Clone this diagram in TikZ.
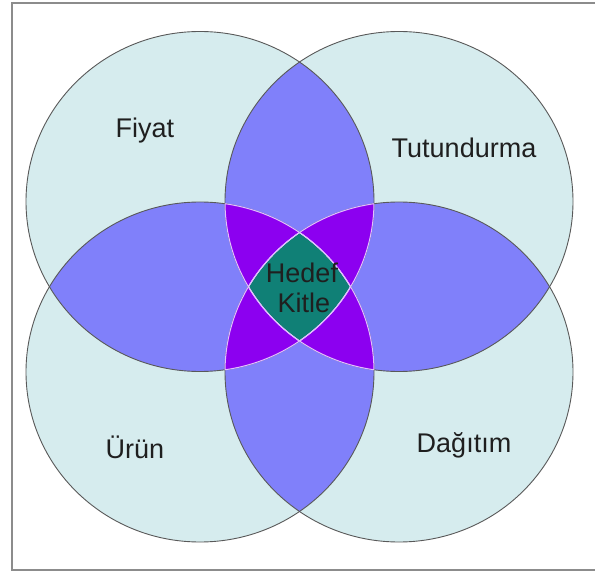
\documentclass[tikz,border=0pt]{standalone}
\usepackage{fontspec}
\setmainfont{Liberation Sans}
\definecolor{cyanfill}{RGB}{214,236,238}
\definecolor{lensfill}{RGB}{128,128,250}
\definecolor{trifill}{RGB}{140,0,240}
\definecolor{quadfill}{RGB}{16,128,118}
\definecolor{lightline}{RGB}{225,190,255}
\definecolor{frame}{RGB}{140,140,140}
\tikzset{
  outline/.style={draw=black!65, line width=0.9pt},
  lightedge/.style={draw=lightline, line width=1pt},
  lbl/.style={font=\fontsize{27}{30}\selectfont, text=black!88, inner sep=0pt, anchor=base}
}
\newcommand\cA{(200,201.5) ellipse [x radius=174, y radius=170]}
\newcommand\cB{(399,201.5) ellipse [x radius=174, y radius=170]}
\newcommand\cC{(200,372) ellipse [x radius=174, y radius=170]}
\newcommand\cD{(399,372) ellipse [x radius=174, y radius=170]}
\newcommand\lightin[3]{\begin{scope}\clip #1; \clip #2; \draw[lightedge] #3;\end{scope}}
\begin{document}
\begin{tikzpicture}[x=1pt,y=-1pt]
\useasboundingbox (0,0) rectangle (595,572);
\fill[white] (0,0) rectangle (595,572);
\draw[frame, line width=1.6pt] (12,3) rectangle (640,570);
% single circles
\fill[cyanfill] \cA; \fill[cyanfill] \cB; \fill[cyanfill] \cC; \fill[cyanfill] \cD;
% pairs
\begin{scope}\clip \cA; \fill[lensfill] \cB; \fill[lensfill] \cC; \fill[lensfill] \cD; \end{scope}
\begin{scope}\clip \cB; \fill[lensfill] \cC; \fill[lensfill] \cD; \end{scope}
\begin{scope}\clip \cC; \fill[lensfill] \cD; \end{scope}
% outlines
\draw[outline] \cA; \draw[outline] \cB; \draw[outline] \cC; \draw[outline] \cD;
% triples
\begin{scope}\clip \cA; \clip \cB; \fill[trifill] \cC; \fill[trifill] \cD; \end{scope}
\begin{scope}\clip \cA; \clip \cC; \fill[trifill] \cD; \end{scope}
\begin{scope}\clip \cB; \clip \cC; \fill[trifill] \cD; \end{scope}
% quadruple
\begin{scope}\clip \cA; \clip \cB; \clip \cC; \fill[quadfill] \cD; \end{scope}
% light edges inside overlaps
\lightin{\cB}{\cC}{\cA} \lightin{\cB}{\cD}{\cA} \lightin{\cC}{\cD}{\cA}
\lightin{\cA}{\cC}{\cB} \lightin{\cA}{\cD}{\cB} \lightin{\cC}{\cD}{\cB}
\lightin{\cA}{\cB}{\cC} \lightin{\cA}{\cD}{\cC} \lightin{\cB}{\cD}{\cC}
\lightin{\cA}{\cB}{\cD} \lightin{\cA}{\cC}{\cD} \lightin{\cB}{\cC}{\cD}
% labels
\node[lbl] (fiyat) at (145,138) {Fiyat};
\node[lbl] (tutundurma) at (464,158) {Tutundurma};
\node[lbl] (urun) at (135,458) {Ürün};
\node[lbl] (dagitim) at (464,452) {Dağıtım};
\node[lbl] (hedef) at (302,283) {Hedef};
\node[lbl] (kitle) at (304,313) {Kitle};
\end{tikzpicture}
\end{document}
